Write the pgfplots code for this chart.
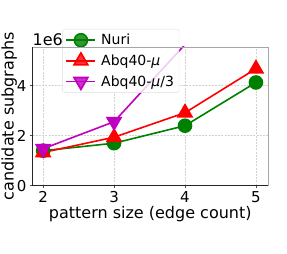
\documentclass[border=0pt]{standalone}
\usepackage{fontspec}
\setmainfont{DejaVu Sans}
\usepackage{pgfplots}
\pgfplotsset{compat=1.18}
\definecolor{mplgreen}{rgb}{0,0.5,0}
\definecolor{mplred}{rgb}{1,0,0}
\definecolor{mplmag}{rgb}{0.75,0,0.75}
\begin{document}
\begin{tikzpicture}
\useasboundingbox (0,0) rectangle (287pt,254pt);
\node[anchor=south west, inner sep=0pt, font=\fontsize{16}{19}\selectfont] at (32.5pt,208.5pt) {1e6};
\begin{axis}[
  name=ax,
  at={(32.5pt,68.3pt)}, anchor=south west,
  scale only axis, width=235.5pt, height=138.7pt,
  xmin=1.85, xmax=5.17, ymin=0, ymax=5.55e6,
  axis lines=left, axis line style={-, black!85, line width=0.8pt},
  xtick={2,3,4,5}, ytick={0,2e6,4e6}, yticklabels={0,2,4},
  scaled y ticks=false,
  tick align=outside, major tick length=2.5pt,
  tick style={black!70, line width=0.5pt},
  grid=major, major grid style={gray!35, dash pattern=on 2pt off 1.2pt, line width=0.5pt},
  /pgf/number format/assume math mode=true,
  ticklabel style={font=\fontsize{15}{18}\selectfont},
  label style={font=\fontsize{16}{19}\selectfont},
  xlabel={pattern size (edge count)},
  ylabel={candidate subgraphs},
  xlabel style={yshift=4pt},
  ylabel style={yshift=-7pt},
  legend cell align=left,
  legend image code/.code={\draw[mark repeat=2,mark phase=2,#1] plot coordinates {(0pt,0pt) (14.5pt,0pt) (29pt,0pt)};},
  legend style={at={(0.127,1.13)}, anchor=north west, fill=white, fill opacity=0.8, text opacity=1, draw opacity=1, draw=gray!25, rounded corners=2pt, font=\fontsize{14}{16}\selectfont, row sep=4.5pt, inner sep=3pt, /tikz/every odd column/.append style={column sep=3pt}},
]
\addplot[mplgreen, line width=1.6pt, mark=*, mark size=6.5pt, mark options={solid, fill=mplgreen, draw=mplgreen}]
  coordinates {(2,1.40e6) (3,1.70e6) (4,2.40e6) (5,4.13e6)};
\addlegendentry{Nuri}
\addplot[mplred, line width=1.6pt, mark=triangle*, mark size=8pt, mark options={solid, fill=mplred, draw=mplred}]
  coordinates {(2,1.33e6) (3,1.94e6) (4,2.92e6) (5,4.68e6)};
\addlegendentry{Abq40-{\itshape μ}}
\addplot[mplmag, line width=1.6pt, mark=triangle*, mark size=8pt, mark options={solid, fill=mplmag, draw=mplmag, rotate=180}]
  coordinates {(2,1.48e6) (3,2.56e6) (4,5.65e6)};
\addlegendentry{Abq40-{\itshape μ}/3}
\end{axis}
\draw[gray!70, line width=0.8pt] (ax.north west) -- (ax.north east) -- (ax.south east);
\end{tikzpicture}
\end{document}
